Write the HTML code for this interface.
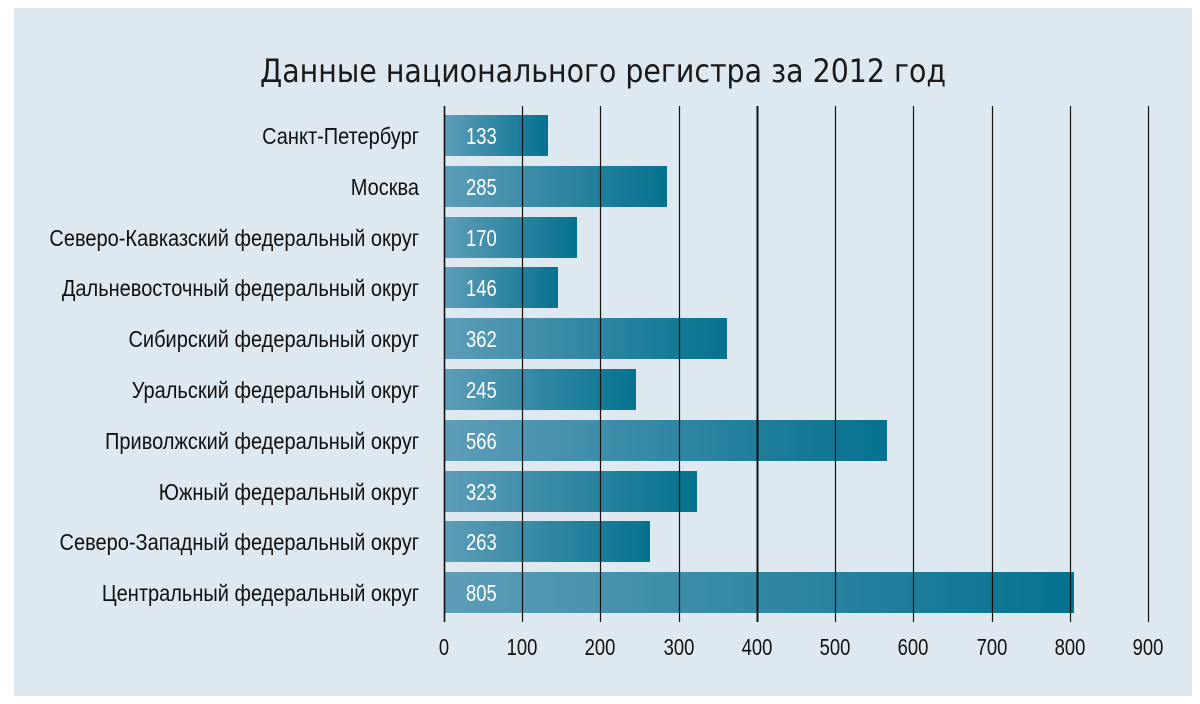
<!DOCTYPE html>
<html><head><meta charset="utf-8"><style>
html,body{margin:0;padding:0;background:#fff;width:1200px;height:704px;overflow:hidden}
svg{display:block}
text{font-family:"Liberation Sans Narrow","Liberation Sans",sans-serif}
</style></head><body>
<svg width="1200" height="704" viewBox="0 0 1200 704" xmlns="http://www.w3.org/2000/svg">
<defs>
<linearGradient id="g" x1="0" x2="1" y1="0" y2="0">
<stop offset="0" stop-color="#5e9db8"/><stop offset="1" stop-color="#05728f"/>
</linearGradient>
</defs>
<rect x="14" y="8" width="1178" height="688" fill="#dde8f0"/>
<text x="603" y="82" text-anchor="middle" font-size="32" fill="#1a1a1a" textLength="686" lengthAdjust="spacingAndGlyphs" style="font-family:'DejaVu Sans Condensed','Liberation Sans',sans-serif">Данные национального регистра за 2012 год</text>
<g>
<rect x="444" y="115" width="104" height="41" fill="url(#g)"/>
<rect x="444" y="166" width="223" height="41" fill="url(#g)"/>
<rect x="444" y="217" width="133" height="41" fill="url(#g)"/>
<rect x="444" y="267" width="114" height="41" fill="url(#g)"/>
<rect x="444" y="318" width="283" height="41" fill="url(#g)"/>
<rect x="444" y="369" width="192" height="41" fill="url(#g)"/>
<rect x="444" y="420" width="443" height="41" fill="url(#g)"/>
<rect x="444" y="471" width="253" height="41" fill="url(#g)"/>
<rect x="444" y="521" width="206" height="41" fill="url(#g)"/>
<rect x="444" y="572" width="630" height="41" fill="url(#g)"/>
</g>
<g stroke="#111" stroke-width="1.2">
<line x1="444.5" y1="106" x2="444.5" y2="622" stroke-width="1.6"/>
<line x1="522.5" y1="106" x2="522.5" y2="622"/>
<line x1="600.5" y1="106" x2="600.5" y2="622"/>
<line x1="679.5" y1="106" x2="679.5" y2="622"/>
<line x1="757.5" y1="106" x2="757.5" y2="622" stroke-width="2"/>
<line x1="835.5" y1="106" x2="835.5" y2="622"/>
<line x1="913.5" y1="106" x2="913.5" y2="622"/>
<line x1="992.5" y1="106" x2="992.5" y2="622"/>
<line x1="1070.5" y1="106" x2="1070.5" y2="622"/>
<line x1="1148.5" y1="106" x2="1148.5" y2="622"/>
</g>
<g font-size="23" fill="#fff" transform="translate(466,0) scale(0.8,1)">
<text x="0" y="144">133</text><text x="0" y="195">285</text><text x="0" y="246">170</text>
<text x="0" y="296">146</text><text x="0" y="347">362</text><text x="0" y="398">245</text>
<text x="0" y="449">566</text><text x="0" y="500">323</text><text x="0" y="550">263</text>
<text x="0" y="601">805</text>
</g>
<g font-size="23" fill="#111" text-anchor="end" transform="translate(419,0) scale(0.87,1)">
<text x="0" y="144">Санкт-Петербург</text>
<text x="0" y="195">Москва</text>
<text x="0" y="246">Северо-Кавказский федеральный округ</text>
<text x="0" y="296">Дальневосточный федеральный округ</text>
<text x="0" y="347">Сибирский федеральный округ</text>
<text x="0" y="398">Уральский федеральный округ</text>
<text x="0" y="449">Приволжский федеральный округ</text>
<text x="0" y="500">Южный федеральный округ</text>
<text x="0" y="550">Северо-Западный федеральный округ</text>
<text x="0" y="601">Центральный федеральный округ</text>
</g>
<g font-size="23" fill="#111" text-anchor="middle">
<text transform="translate(444,655) scale(0.8,1)">0</text>
<text transform="translate(522,655) scale(0.8,1)">100</text>
<text transform="translate(600,655) scale(0.8,1)">200</text>
<text transform="translate(679,655) scale(0.8,1)">300</text>
<text transform="translate(757,655) scale(0.8,1)">400</text>
<text transform="translate(835,655) scale(0.8,1)">500</text>
<text transform="translate(913,655) scale(0.8,1)">600</text>
<text transform="translate(992,655) scale(0.8,1)">700</text>
<text transform="translate(1070,655) scale(0.8,1)">800</text>
<text transform="translate(1148,655) scale(0.8,1)">900</text>
</g>
</svg>
</body></html>
